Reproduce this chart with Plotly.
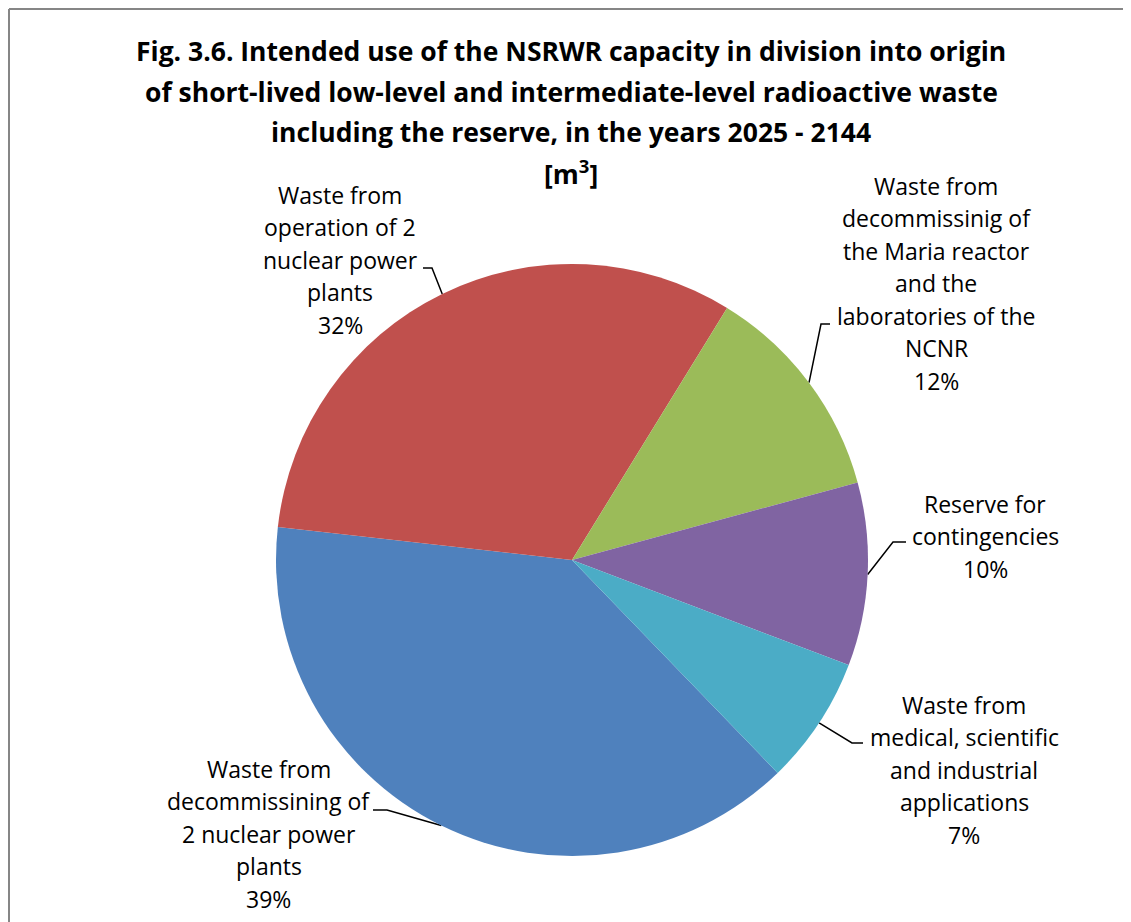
import math
import plotly.graph_objects as go

# ---------------- data ----------------
categories = [
    "Waste from\ndecommissining of\n2 nuclear power\nplants",
    "Waste from\noperation of 2\nnuclear power\nplants",
    "Waste from\ndecommissinig of\nthe Maria reactor\nand the\nlaboratories of the\nNCNR",
    "Reserve for\ncontingencies",
    "Waste from\nmedical, scientific\nand industrial\napplications",
]
values = [39, 32, 12, 10, 7]
colors = ["#4F81BD", "#C0504D", "#9BBB59", "#8064A2", "#4BACC6"]
title_lines = [
    "Fig. 3.6. Intended use of the NSRWR capacity in division into origin",
    "of short-lived low-level and intermediate-level radioactive waste",
    "including the reserve, in the years 2025 - 2144",
    "[m<sup>3</sup>]",
]

# ---------------- layout constants ----------------
W, H = 1131, 922
OX, OY = 8, 8          # page offset of the plot div (body margin)
CX, CY, R = 572, 560, 296
ROTATION = 136
FONT = "Open Sans"
LABEL_SIZE = 23
TITLE_SIZE = 26.5
LINE_PITCH = 32.5
TITLE_PITCH = 40.5
TITLE_X, TITLE_BASE = 571, 61
# label anchor: (center x, first baseline y)
label_pos = [(268.5, 777), (340, 203), (936, 194), (985, 512), (964, 713)]
# leader line: bend point, end point near label
elbows = [((387, 810), (373, 810)), ((432, 268), (423, 268)),
          ((821, 324), (830, 324)), ((893, 542), (906, 542)),
          ((852, 743), (863, 743))]

fig = go.Figure()

fig.add_trace(go.Pie(
    labels=[c.replace("\n", " ") for c in categories],
    values=values,
    marker=dict(colors=colors, line=dict(width=0)),
    sort=False,
    direction="clockwise",
    rotation=ROTATION,
    textinfo="none",
    hoverinfo="label+percent",
    showlegend=False,
    domain=dict(x=[(CX - R - OX) / W, (CX + R - OX) / W],
                y=[1 - (CY + R - OY) / H, 1 - (CY - R - OY) / H]),
))

total = sum(values)
annotations = []
cum = 0
for i, (cat, v) in enumerate(zip(categories, values)):
    mid = math.radians(ROTATION + (cum + v / 2) / total * 360)
    cum += v
    ex, ey = CX + R * math.sin(mid), CY - R * math.cos(mid)
    (bx, by), (tx, ty) = elbows[i]
    fig.add_trace(go.Scatter(
        x=[ex, bx, tx], y=[ey, by, ty], mode="lines",
        line=dict(color="#000000", width=1.5),
        hoverinfo="skip", showlegend=False, xaxis="x", yaxis="y"))
    lines = cat.split("\n") + [f"{round(v / total * 100)}%"]
    lx, ly = label_pos[i]
    for j, ln in enumerate(lines):
        annotations.append(dict(
            x=lx, y=ly + j * LINE_PITCH - 0.36 * LABEL_SIZE,
            xref="x", yref="y", text=ln, showarrow=False,
            xanchor="center", yanchor="middle",
            font=dict(family=FONT, size=LABEL_SIZE, color="#000000")))

for j, ln in enumerate(title_lines):
    annotations.append(dict(
        x=TITLE_X, y=TITLE_BASE + j * TITLE_PITCH - 0.36 * TITLE_SIZE,
        xref="x", yref="y", text=ln, showarrow=False,
        xanchor="center", yanchor="middle",
        font=dict(family=FONT, size=TITLE_SIZE, color="#000000", weight="bold")))

fig.update_layout(
    width=W, height=H,
    margin=dict(l=0, r=0, t=0, b=0),
    paper_bgcolor="#FFFFFF", plot_bgcolor="rgba(0,0,0,0)",
    xaxis=dict(range=[OX, OX + W], visible=False, domain=[0, 1], fixedrange=True),
    yaxis=dict(range=[OY + H, OY], visible=False, domain=[0, 1], fixedrange=True),
    annotations=annotations,
    shapes=[
        dict(type="line", xref="paper", yref="paper",
             x0=1 / W, x1=1 / W, y0=0, y1=1 - (9 - OY) / H,
             line=dict(color="#868686", width=2)),
        dict(type="line", xref="paper", yref="paper",
             x0=1 / W, x1=1, y0=1 - (9 - OY) / H, y1=1 - (9 - OY) / H,
             line=dict(color="#868686", width=2)),
    ],
)

fig.write_html("out.html")
